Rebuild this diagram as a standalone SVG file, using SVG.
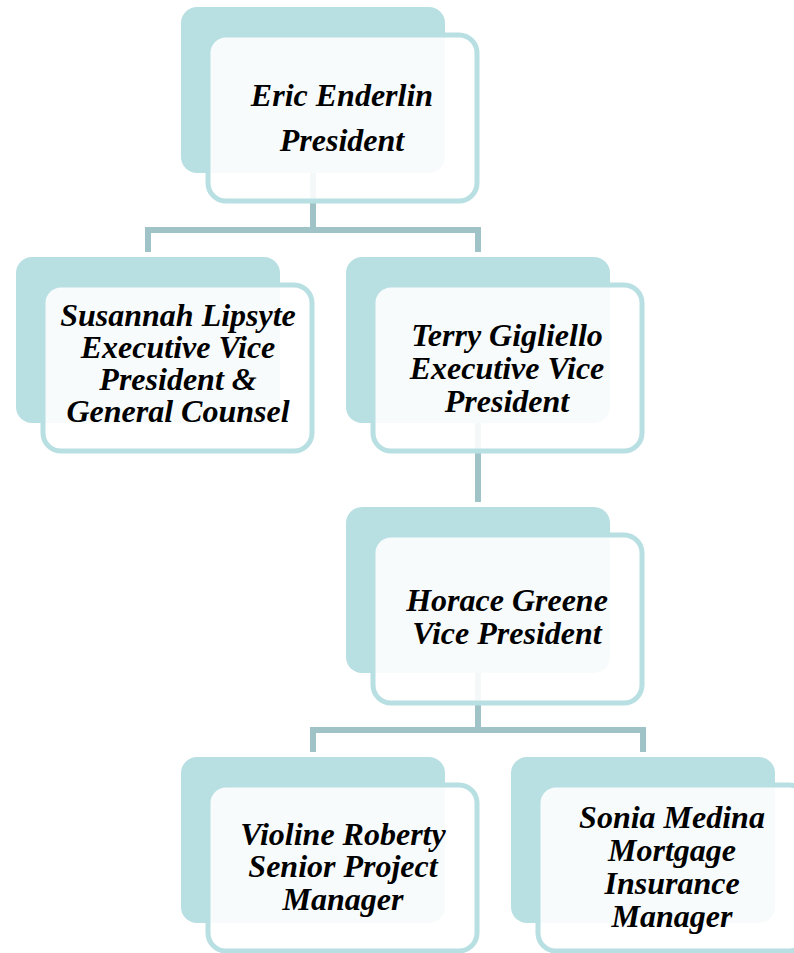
<svg xmlns="http://www.w3.org/2000/svg" width="794" height="953" viewBox="0 0 794 953">
<style>
.back{fill:#b8dfe2}
.front{fill:#ffffff;fill-opacity:0.88;stroke:#b8dfe2;stroke-width:5}
.conn{fill:none;stroke:#a0c3c7;stroke-width:6}
text{font-family:"Liberation Serif","Times New Roman",serif;font-weight:bold;font-style:italic;font-size:32px;fill:#000;text-anchor:middle}
</style>
<rect width="794" height="953" fill="#ffffff"/>
<g id="connectors">
<path class="conn" d="M313,173 V230 M148,252 V230 H478 V252"/>
<path class="conn" d="M478,423 V502"/>
<path class="conn" d="M478,673 V730 M313,752 V730 H643 V752"/>
</g>
<g id="n1">
<rect class="back" x="181" y="7" width="264" height="166" rx="16"/>
<rect class="front" x="208" y="35" width="269" height="166" rx="18"/>
<text x="342" y="106">Eric Enderlin</text>
<text x="342" y="151">President</text>
</g>
<g id="n2">
<rect class="back" x="16" y="257" width="264" height="166" rx="16"/>
<rect class="front" x="43" y="285" width="269" height="166" rx="18"/>
<text x="178" y="326">Susannah Lipsyte</text>
<text x="178" y="358">Executive Vice</text>
<text x="178" y="390">President &amp;</text>
<text x="178" y="422">General Counsel</text>
</g>
<g id="n3">
<rect class="back" x="346" y="257" width="264" height="166" rx="16"/>
<rect class="front" x="373" y="285" width="269" height="166" rx="18"/>
<text x="507" y="346">Terry Gigliello</text>
<text x="507" y="379">Executive Vice</text>
<text x="507" y="412">President</text>
</g>
<g id="n4">
<rect class="back" x="346" y="507" width="264" height="166" rx="16"/>
<rect class="front" x="373" y="535" width="269" height="168" rx="18"/>
<text x="507" y="611">Horace Greene</text>
<text x="507" y="644">Vice President</text>
</g>
<g id="n5">
<rect class="back" x="181" y="757" width="264" height="166" rx="16"/>
<rect class="front" x="208" y="785" width="269" height="166" rx="18"/>
<text x="343" y="845">Violine Roberty</text>
<text x="343" y="877">Senior Project</text>
<text x="343" y="910">Manager</text>
</g>
<g id="n6">
<rect class="back" x="511" y="757" width="264" height="166" rx="16"/>
<rect class="front" x="538" y="785" width="269" height="166" rx="18"/>
<text x="672" y="828">Sonia Medina</text>
<text x="672" y="861">Mortgage</text>
<text x="672" y="894">Insurance</text>
<text x="672" y="927">Manager</text>
</g>
</svg>
